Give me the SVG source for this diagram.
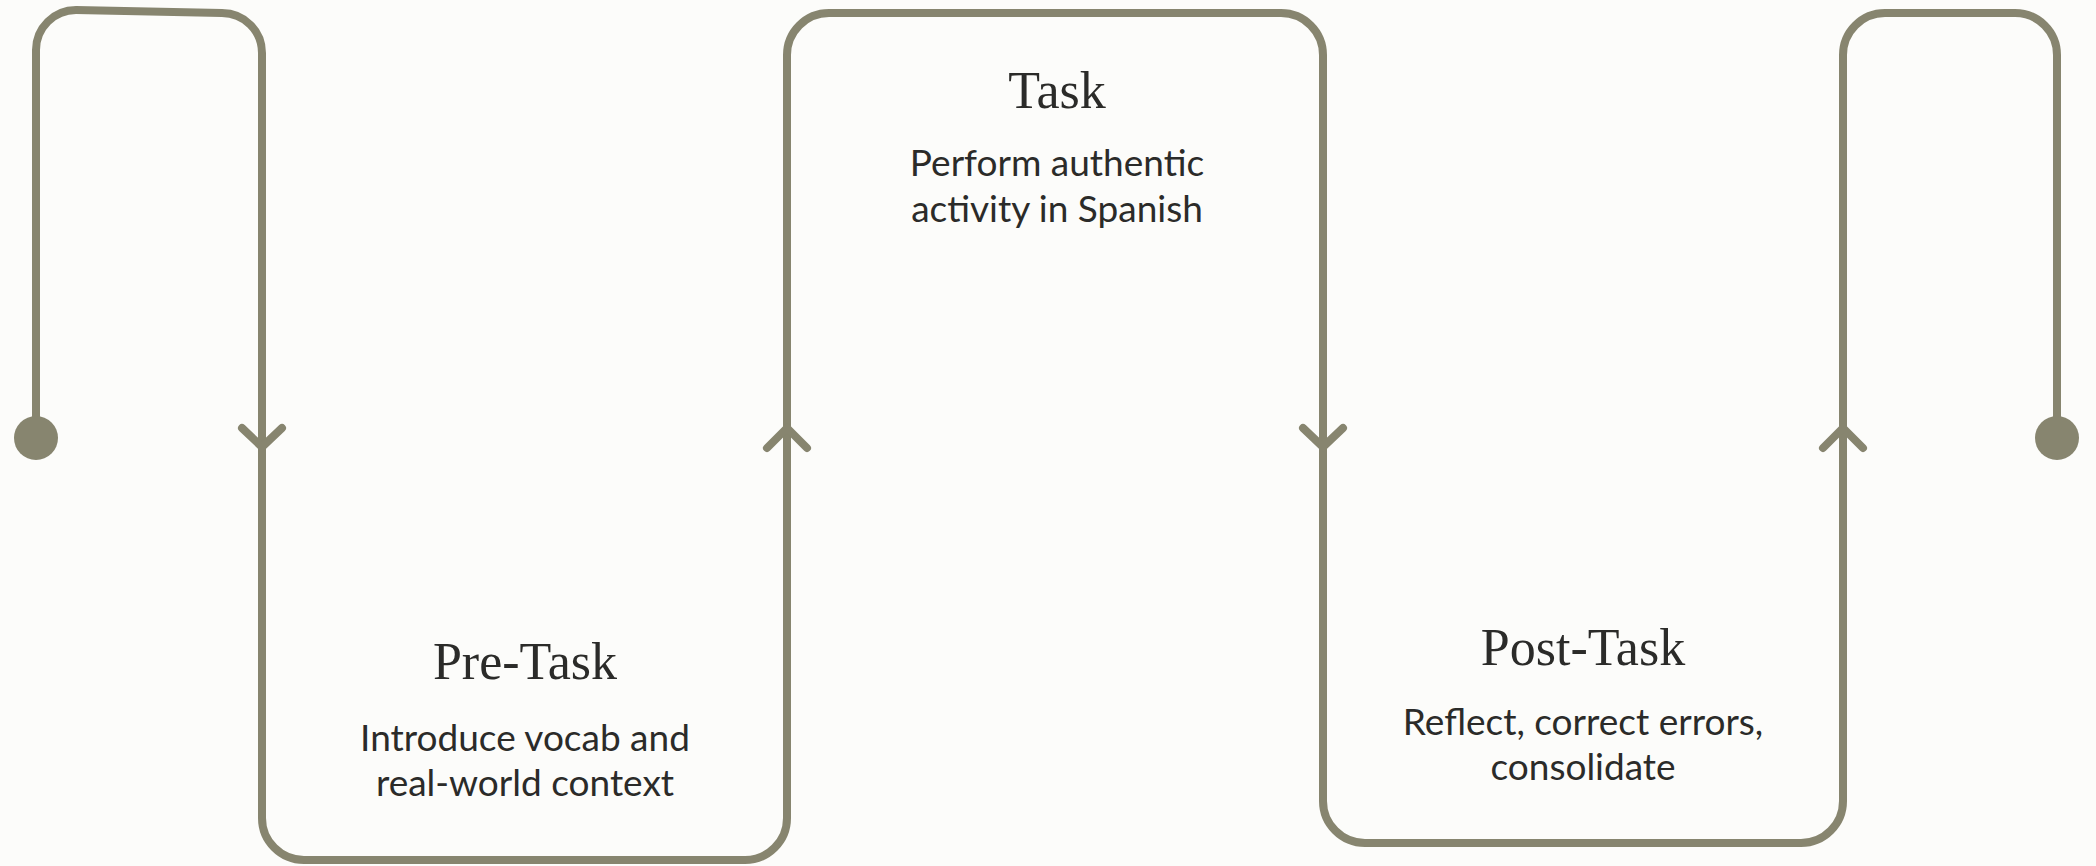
<svg xmlns="http://www.w3.org/2000/svg" width="2096" height="866" viewBox="0 0 2096 866">
<style>
.line{fill:none;stroke:#87856F;stroke-width:8;stroke-linecap:round;stroke-linejoin:round}
.dot{fill:#87856F}
.h{font-family:"Liberation Serif","DejaVu Serif",serif;font-size:52px;fill:#2b2b29;text-anchor:middle}
.b{font-family:Lato,"Liberation Sans",sans-serif;font-size:37px;fill:#2b2b29;text-anchor:middle}
</style>
<rect width="2096" height="866" fill="#fcfcfa"/>
<g id="connectors">
<path class="line" d="M36,438 V50 A40,40 0 0 1 76,10 L222,13 A40,40 0 0 1 262,53 V818 A42,42 0 0 0 304,860 H745 A42,42 0 0 0 787,818 V55 A42,42 0 0 1 829,13 H1281 A42,42 0 0 1 1323,55 V801 A42,42 0 0 0 1365,843 H1801 A42,42 0 0 0 1843,801 V55 A42,42 0 0 1 1885,13 H2015 A42,42 0 0 1 2057,55 V438"/>
<path class="line" d="M242,428 L262,447 L282,428"/>
<path class="line" d="M767,448 L787,428 L807,448"/>
<path class="line" d="M1303,428 L1323,447 L1343,428"/>
<path class="line" d="M1823,448 L1843,428 L1863,448"/>
<circle class="dot" cx="36" cy="438" r="22"/>
<circle class="dot" cx="2057" cy="438" r="22"/>
</g>
<g id="pre-task">
<text class="h" x="525" y="679">Pre-Task</text>
<text class="b" x="525" y="751">Introduce vocab and</text>
<text class="b" x="525" y="796">real-world context</text>
</g>
<g id="task">
<text class="h" x="1057" y="108">Task</text>
<text class="b" x="1057" y="176">Perform authentic</text>
<text class="b" x="1057" y="222">activity in Spanish</text>
</g>
<g id="post-task">
<text class="h" x="1583" y="665">Post-Task</text>
<text class="b" x="1583" y="735">Reflect, correct errors,</text>
<text class="b" x="1583" y="780">consolidate</text>
</g>
</svg>
